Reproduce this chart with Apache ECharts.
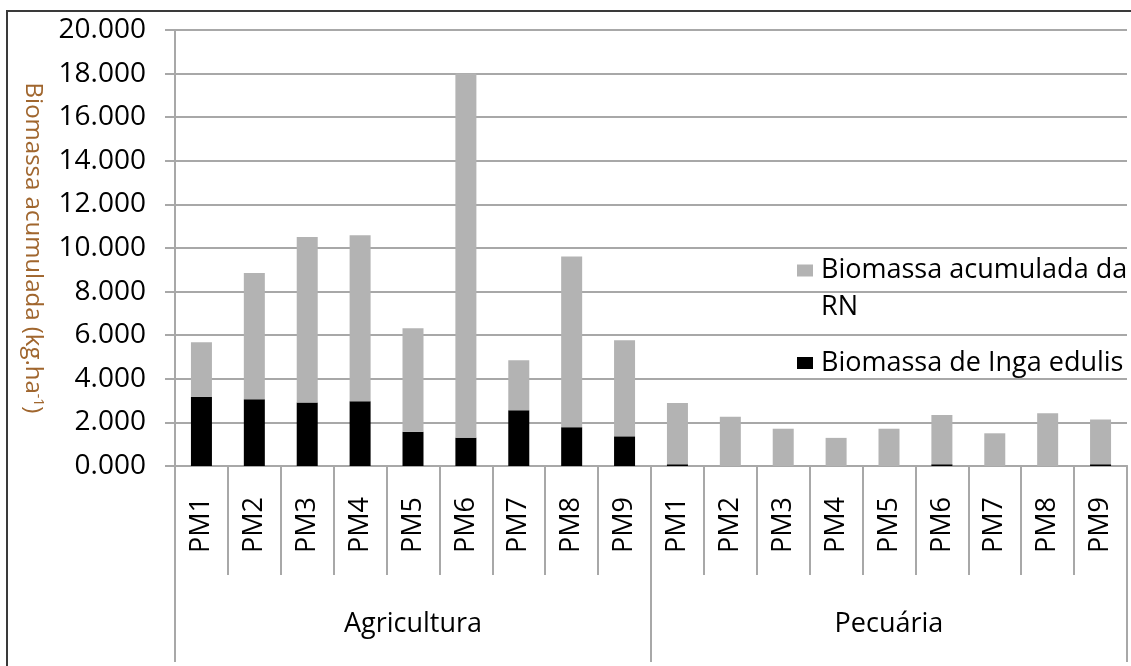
<!DOCTYPE html>
<html>
<head>
<meta charset="utf-8">
<script src="https://cdn.jsdelivr.net/npm/echarts@6/dist/echarts.min.js"></script>
<style>
  html, body { margin: 0; padding: 0; background: #fff; }
  #chart { width: 1131px; height: 666px; }
</style>
</head>
<body>
<div id="chart"></div>
<script>
// grupos e parcelas (eixo x em dois níveis)
var groups = ["Agricultura", "Pecuária"];
var plots = ["PM1", "PM2", "PM3", "PM4", "PM5", "PM6", "PM7", "PM8", "PM9"];

// biomassa (kg/ha)
var ingaAgri = [3180, 3060, 2910, 2970, 1570, 1300, 2560, 1780, 1360];
var ingaPec = [80, 0, 0, 0, 0, 80, 0, 0, 80];
var rnAgri = [2500, 5790, 7600, 7620, 4750, 16700, 2290, 7830, 4410];
var rnPec = [2810, 2260, 1710, 1290, 1710, 2260, 1500, 2420, 2050];

var yTicks = [0, 2000, 4000, 6000, 8000, 10000, 12000, 14000, 16000, 18000, 20000];

var categories = plots.concat(plots);
var inga = ingaAgri.concat(ingaPec);
var rn = rnAgri.concat(rnPec);

var font = "Open Sans";
var lineColor = "#a8a8a8";

var chart = echarts.init(document.getElementById("chart"));
chart.setOption({
  backgroundColor: "#fff",
  animation: false,
  textStyle: { fontFamily: font },
  graphic: [
    {
      type: "rect",
      shape: { x: 7, y: 11, width: 1200, height: 700 },
      style: { fill: "none", stroke: "#3a3a3a", lineWidth: 2 },
      silent: true
    }
  ],
  grid: { left: 175, right: 4, top: 30, bottom: 200, containLabel: false },
  legend: [
    {
      data: ["Biomassa acumulada da RN"],
      left: 797,
      top: 215,
      padding: 0,
      icon: "rect",
      itemWidth: 16,
      itemHeight: 12,
      selectedMode: false,
      // linha vazia em cima para o ícone ficar alinhado com a 1ª linha
      formatter: function () { return "\nBiomassa acumulada da\nRN"; },
      textStyle: { fontFamily: font, fontSize: 27, color: "#000", lineHeight: 37, padding: [0, 0, 0, 3] }
    },
    {
      data: ["Biomassa de Inga edulis"],
      left: 797,
      top: 348,
      padding: 0,
      icon: "rect",
      itemWidth: 16,
      itemHeight: 12,
      selectedMode: false,
      textStyle: { fontFamily: font, fontSize: 27, color: "#000", lineHeight: 30, padding: [0, 0, 0, 3] }
    }
  ],
  xAxis: [
    {
      type: "category",
      data: categories,
      position: "bottom",
      axisLine: { show: true, lineStyle: { color: lineColor, width: 2 } },
      axisTick: { show: true, interval: 0, length: 109, lineStyle: { color: lineColor, width: 2 } },
      axisLabel: { interval: 0, rotate: 90, margin: 31, fontSize: 27, color: "#000", fontFamily: font },
      splitLine: { show: false }
    },
    {
      type: "category",
      data: groups,
      position: "bottom",
      axisLine: { show: true, lineStyle: { color: lineColor, width: 2 } },
      axisTick: { show: true, interval: 0, length: 196, lineStyle: { color: lineColor, width: 2 } },
      axisLabel: { interval: 0, margin: 145, fontSize: 27, color: "#000", fontFamily: font },
      splitLine: { show: false }
    }
  ],
  yAxis: {
    type: "value",
    min: yTicks[0],
    max: yTicks[yTicks.length - 1],
    interval: 2000,
    name: "Biomassa acumulada (kg.ha{sup|-1})",
    nameLocation: "middle",
    nameRotate: -90,
    nameGap: 130,
    nameTextStyle: {
      fontFamily: font,
      fontSize: 24,
      color: "#a0662e",
      rich: {
        sup: { fontFamily: font, fontSize: 14, color: "#a0662e", verticalAlign: "top" }
      }
    },
    axisLine: { show: true, lineStyle: { color: lineColor, width: 2 } },
    axisTick: { show: true, length: 10, lineStyle: { color: lineColor, width: 2 } },
    axisLabel: {
      margin: 29,
      fontSize: 28,
      color: "#000",
      fontFamily: font,
      formatter: function (v) { return (v / 1000).toFixed(3); }
    },
    splitLine: { show: true, lineStyle: { color: lineColor, width: 2 } }
  },
  series: [
    {
      name: "Biomassa de Inga edulis",
      type: "bar",
      stack: "total",
      barWidth: 21,
      itemStyle: { color: "#000000" },
      data: inga
    },
    {
      name: "Biomassa acumulada da RN",
      type: "bar",
      stack: "total",
      barWidth: 21,
      itemStyle: { color: "#b3b3b3" },
      data: rn
    }
  ]
});
</script>
</body>
</html>
